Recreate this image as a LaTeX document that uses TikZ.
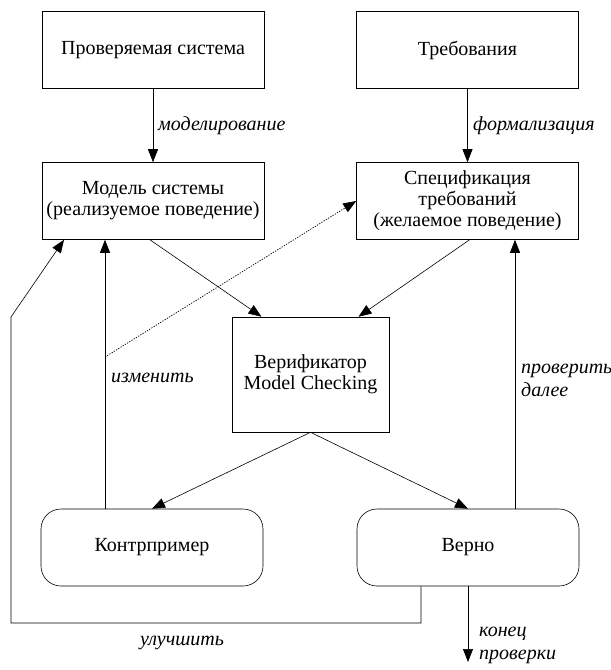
\documentclass[tikz,border=0pt]{standalone}
\usepackage{fontspec}
\setmainfont{Liberation Serif}
\usetikzlibrary{arrows.meta}
\begin{document}
\begin{tikzpicture}[x=1pt,y=1pt,
  font=\fontsize{20}{21}\selectfont,
  box/.style={draw, line width=0.6pt, minimum width=222pt, minimum height=77pt, inner sep=2pt, align=center},
  rbox/.style={box, rounded corners=20pt},
  vbox/.style={draw, line width=0.6pt, minimum width=157pt, minimum height=115pt, align=center},
  arr/.style={line width=0.6pt, -{Triangle[length=13pt,width=10pt]}},
  lbl/.style={font=\fontsize{20}{23}\selectfont\itshape, inner sep=0pt, align=left}]
\useasboundingbox (0,0) rectangle (611,-670);
\node[box] (A) at (153,-50) {Проверяемая система};
\node[box] (B) at (467.5,-50) {Требования};
\node[box] (C) at (153,-201) {Модель системы\\(реализуемое поведение)};
\node[box] (D) at (467.5,-201) {Спецификация\\требований\\(желаемое поведение)};
\node[vbox] (E) at (310.5,-374.5) {Верификатор\\Model Checking};
\node[rbox] (K) at (152,-547.5) {Контрпример};
\node[rbox] (V) at (468,-547.5) {Верно};
\coordinate (dd) at (105,-357);
\coordinate (fin) at (468,-662);
\coordinate (l1) at (421,-623);
\coordinate (l2) at (11,-623);
\coordinate (l3) at (11,-317);

\draw[arr] (A) -- (C);
\draw[arr] (B) -- (D);
\draw[arr] ([xshift=-3pt]C.south) -- ([xshift=-49pt]E.north);
\draw[arr] ([xshift=2pt]D.south) -- ([xshift=48pt]E.north);
\draw[arr] (E.south) -- (K.north);
\draw[arr] (E.south) -- (V.north);
\draw[arr] ([xshift=-47pt]K.north) -- ([xshift=-48pt]C.south);
\draw[arr] ([xshift=47pt]V.north) -- ([xshift=47.5pt]D.south);
\draw[arr, line width=0.7pt, dash pattern=on 1.3pt off 1.3pt] (dd) -- (D.west);
\draw[arr] ([xshift=-47pt]V.south) -- (l1) -- (l2) -- (l3) -- ([xshift=-89pt]C.south);
\draw[arr] (V.south) -- (fin);

\node[lbl, anchor=west] (t1) at (158,-126) {моделирование};
\node[lbl, anchor=west] (t2) at (473,-126) {формализация};
\node[lbl, anchor=west] (t3) at (111,-378) {изменить};
\node[lbl, anchor=west] (t4) at (521,-380) {проверить\\далее};
\node[lbl] (t5) at (182,-643) {улучшить};
\node[lbl, anchor=west] (t6) at (479,-645) {конец\\проверки};
\end{tikzpicture}
\end{document}
